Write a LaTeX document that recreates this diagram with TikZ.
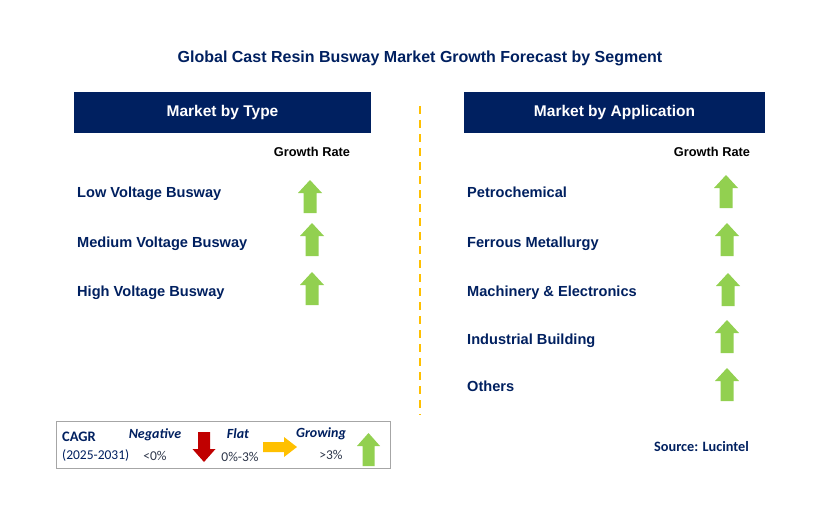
\documentclass[tikz,border=0pt]{standalone}
\usepackage{fontspec}
\setmainfont{Liberation Sans}
\newfontfamily\calibri{Carlito}
\definecolor{navy}{HTML}{002060}
\definecolor{arrgreen}{HTML}{92D050}
\definecolor{arrred}{HTML}{C00000}
\definecolor{arryellow}{HTML}{FFC000}
\definecolor{legendgray}{HTML}{404040}
\begin{document}
\begin{tikzpicture}[x=1pt,y=-1pt,
  title/.style={font=\fontsize{16}{18}\selectfont\bfseries, text=navy},
  header/.style={fill=navy, text=white, font=\fontsize{15.5}{18}\selectfont\bfseries, minimum height=41pt, inner sep=0pt},
  item/.style={anchor=base west, text=navy, font=\fontsize{14.6}{16}\selectfont\bfseries, inner sep=0pt},
  grate/.style={text=black, font=\fontsize{12.8}{14}\selectfont\bfseries, inner sep=0pt},
  legtext/.style={text=navy, font=\calibri\fontsize{13.5}{15}\selectfont, inner sep=0pt},
  legbold/.style={text=navy, font=\calibri\fontsize{14.5}{15}\selectfont\bfseries, inner sep=0pt},
  legital/.style={text=navy, font=\calibri\fontsize{14}{15}\selectfont\bfseries\itshape, inner sep=0pt},
  upgreen/.pic={\fill[arrgreen] (-6.5,0) -- (-6.5,-20) -- (-12,-20) -- (0,-33) -- (12,-20) -- (6.5,-20) -- (6.5,0) -- cycle;},
  divider/.style={arryellow, line width=2pt, dash pattern=on 8pt off 6pt}
]
\useasboundingbox (0,0) rectangle (829,516);
\fill[white] (0,0) rectangle (829,516);

% title
\node[title] (ttl) at (420,58) {Global Cast Resin Busway Market Growth Forecast by Segment};

% headers
\node[header, minimum width=297pt] (htype) at (222.5,112.5) {Market by Type};
\node[header, minimum width=301pt] (happ) at (614.5,112.5) {Market by Application};

% divider
\coordinate (dtop) at (420,106);
\coordinate (dbot) at (420,415);
\draw[divider] (dtop) -- (dbot);

% growth rate labels
\node[grate] (grl) at (312,152) {Growth Rate};
\node[grate] (grr) at (712,152) {Growth Rate};

% left items
\node[item] (t1) at (77,197) {Low Voltage Busway};
\node[item] (t2) at (77,247) {Medium Voltage Busway};
\node[item] (t3) at (77,296) {High Voltage Busway};
\pic at (310,213) {upgreen};
\pic at (312,256) {upgreen};
\pic at (312,305) {upgreen};

% right items
\node[item] (a1) at (467,197) {Petrochemical};
\node[item] (a2) at (467,247) {Ferrous Metallurgy};
\node[item] (a3) at (467,296) {Machinery \& Electronics};
\node[item] (a4) at (467,344) {Industrial Building};
\node[item] (a5) at (467,391) {Others};
\pic at (726,208) {upgreen};
\pic at (727,256) {upgreen};
\pic at (728,306) {upgreen};
\pic at (727,353) {upgreen};
\pic at (727,401) {upgreen};

% legend
\draw[gray!70, line width=1pt] (56,421) rectangle (390,468);
\node[legbold, anchor=west] (lcagr) at (62,437) {CAGR};
\node[legtext, anchor=west] (lyear) at (62,455) {(2025-2031)};
\node[legital] (lneg) at (155,435) {Negative};
\node[legtext, text=legendgray!70!navy] (lneg2) at (155,456) {<0\%};
\fill[arrred] (198,432) -- (210,432) -- (210,449) -- (215.5,449) -- (204,462) -- (192.5,449) -- (198,449) -- cycle;
\node[legital] (lflat) at (238,434) {Flat};
\node[legtext, text=legendgray!70!navy] (lflat2) at (240,457) {0\%-3\%};
\fill[arryellow] (263,442) -- (284,442) -- (284,437) -- (297,447) -- (284,457) -- (284,452) -- (263,452) -- cycle;
\node[legital] (lgrow) at (321,434) {Growing};
\node[legtext, text=legendgray!70!navy] (lgrow2) at (331,455) {>3\%};
\fill[arrgreen] (362.5,466) -- (362.5,446) -- (357,446) -- (368.5,433) -- (380,446) -- (374.5,446) -- (374.5,466) -- cycle;

% source
\node[text=navy, font=\calibri\fontsize{14.3}{16}\selectfont\bfseries, inner sep=0pt] (src) at (701.5,447) {Source: Lucintel};
\end{tikzpicture}
\end{document}
